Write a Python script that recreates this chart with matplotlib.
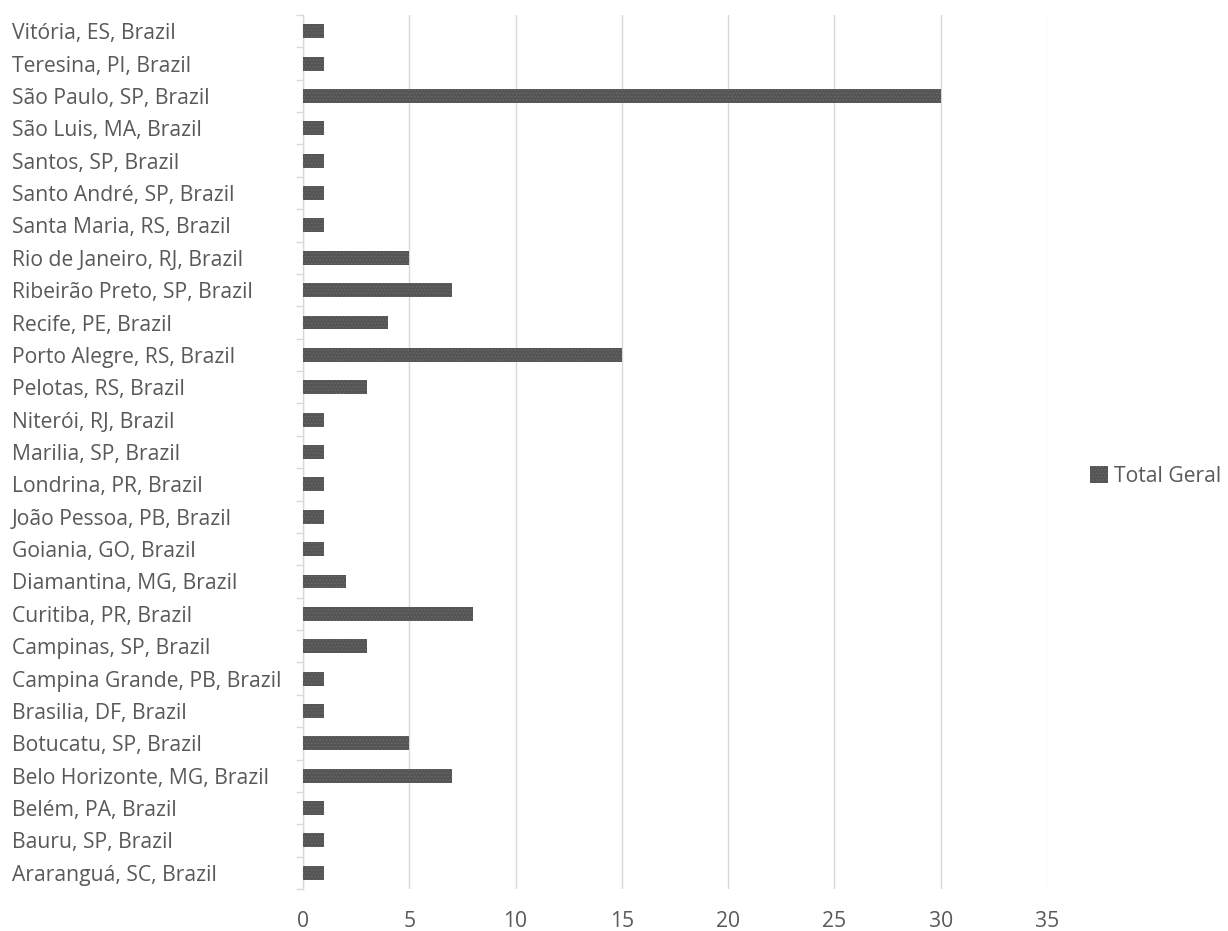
import matplotlib
matplotlib.use("Agg")
import matplotlib.pyplot as plt
import numpy as np

plt.rcParams['font.family'] = ['Open Sans', 'DejaVu Sans']
plt.rcParams['hatch.color'] = '#7a7a7a'
plt.rcParams['hatch.linewidth'] = 0.6

cities = [
    "Vitória, ES, Brazil", "Teresina, PI, Brazil", "São Paulo, SP, Brazil",
    "São Luis, MA, Brazil", "Santos, SP, Brazil", "Santo André, SP, Brazil",
    "Santa Maria, RS, Brazil", "Rio de Janeiro, RJ, Brazil",
    "Ribeirão Preto, SP, Brazil", "Recife, PE, Brazil",
    "Porto Alegre, RS, Brazil", "Pelotas, RS, Brazil", "Niterói, RJ, Brazil",
    "Marilia, SP, Brazil", "Londrina, PR, Brazil", "João Pessoa, PB, Brazil",
    "Goiania, GO, Brazil", "Diamantina, MG, Brazil", "Curitiba, PR, Brazil",
    "Campinas, SP, Brazil", "Campina Grande, PB, Brazil",
    "Brasilia, DF, Brazil", "Botucatu, SP, Brazil",
    "Belo Horizonte, MG, Brazil", "Belém, PA, Brazil", "Bauru, SP, Brazil",
    "Araranguá, SC, Brazil",
]
totals = [1, 1, 30, 1, 1, 1, 1, 5, 7, 4, 15, 3, 1, 1, 1, 1, 1, 2, 8, 3,
          1, 1, 5, 7, 1, 1, 1]
x_ticks = [0, 5, 10, 15, 20, 25, 30, 35]

text_col = '#595959'
grid_col = '#d9d9d9'
fs = 15.2

fig = plt.figure(figsize=(12.28, 9.31), dpi=100)
ax = fig.add_axes([303 / 1228, 1 - 889 / 931, (1047 - 303) / 1228, (889 - 15) / 931])

n = len(cities)
ypos = np.arange(n)[::-1]
ax.barh(ypos, totals, height=0.43, color='#555555', hatch='.....',
        edgecolor='#6a6a6a', linewidth=0, label='Total Geral', zorder=3)

ax.set_xlim(0, 35)
ax.set_ylim(-0.5, n - 0.5)
ax.set_xticks(x_ticks)
ax.set_xticklabels([str(t) for t in x_ticks])
ax.tick_params(axis='x', length=0, pad=16, labelsize=fs, labelcolor=text_col)
ax.grid(axis='x', color=grid_col, linewidth=1, zorder=0)

ax.set_yticks(ypos)
ax.set_yticklabels(cities)
ax.tick_params(axis='y', which='major', length=0, pad=209.5, labelsize=fs,
               labelcolor=text_col)
for lbl in ax.get_yticklabels():
    lbl.set_horizontalalignment('left')
ax.set_yticks(np.arange(-0.5, n, 1.0), minor=True)
ax.tick_params(axis='y', which='minor', length=5, width=1, color=grid_col,
               direction='out')

for side in ['top', 'right', 'bottom']:
    ax.spines[side].set_visible(False)
ax.spines['left'].set_color(grid_col)
ax.spines['left'].set_linewidth(1)

leg = fig.legend(loc='center left', bbox_to_anchor=(1086 / 1228, 1 - 476 / 931),
                 frameon=False, fontsize=fs, handlelength=0.85,
                 handleheight=0.85, handletextpad=0.3, borderpad=0.2,
                 borderaxespad=0)
for t in leg.get_texts():
    t.set_color(text_col)

fig.savefig('out.png', dpi=100, facecolor='white')
